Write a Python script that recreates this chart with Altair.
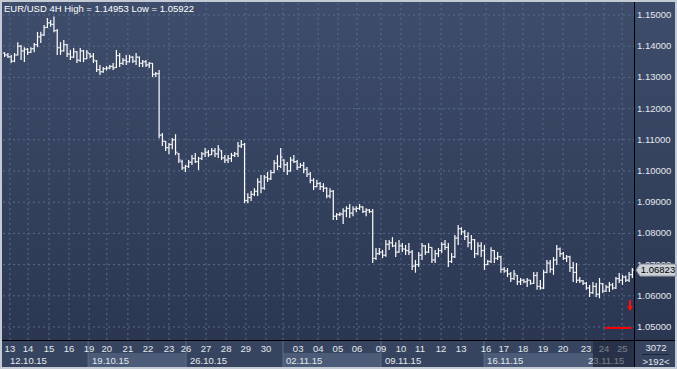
import altair as alt
import pandas as pd

# ---------------- data ----------------
opens = [1.1378,1.1372,1.1366,1.1352,1.1372,1.1400,1.1385,1.1390,1.1380,1.1392,
         1.1405,1.1430,1.1436,1.1460,1.1475,1.1470,1.1450,1.1395,1.1385,1.1405,
         1.1375,1.1365,1.1382,1.1355,1.1385,1.1360,1.1376,1.1368,1.1352,1.1325,
         1.1318,1.1328,1.1330,1.1335,1.1332,1.1370,1.1345,1.1355,1.1350,1.1365,
         1.1352,1.1365,1.1345,1.1350,1.1340,1.1345,1.1310,1.1312,1.1115,1.1095,
         1.1075,1.1085,1.1100,1.1055,1.1030,1.1010,1.1015,1.1028,1.1040,1.1030,
         1.1040,1.1055,1.1060,1.1052,1.1065,1.1055,1.1065,1.1042,1.1035,1.1040,
         1.1050,1.1055,1.1080,1.1085,1.0905,1.0915,1.0925,1.0935,1.0965,1.0945,
         1.0980,1.0975,1.0995,1.1025,1.1015,1.1035,1.1020,1.1000,1.1035,1.1030,
         1.1012,1.1018,1.1005,1.0990,1.0970,1.0950,1.0960,1.0950,1.0945,1.0920,
         1.0935,1.0855,1.0860,1.0862,1.0872,1.0880,1.0865,1.0878,1.0880,1.0885,
         1.0870,1.0875,1.0870,1.0720,1.0735,1.0740,1.0730,1.0765,1.0770,1.0760,
         1.0740,1.0760,1.0750,1.0745,1.0740,1.0695,1.0700,1.0730,1.0760,1.0740,
         1.0755,1.0715,1.0735,1.0745,1.0765,1.0755,1.0710,1.0725,1.0785,1.0815,
         1.0805,1.0790,1.0770,1.0780,1.0735,1.0760,1.0745,1.0700,1.0710,1.0745,
         1.0720,1.0725,1.0685,1.0680,1.0670,1.0655,1.0665,1.0645,1.0650,1.0645,
         1.0650,1.0640,1.0665,1.0630,1.0625,1.0675,1.0705,1.0685,1.0715,1.0750,
         1.0735,1.0720,1.0725,1.0690,1.0675,1.0650,1.0648,1.0640,1.0625,1.0610,
         1.0630,1.0605,1.0638,1.0615,1.0628,1.0635,1.0625,1.0655,1.0650,1.0660,
         1.0650,1.0668]
highs = [1.1381,1.1378,1.1372,1.1378,1.1413,1.1404,1.1397,1.1394,1.1397,1.1410,
         1.1446,1.1446,1.1468,1.1490,1.1484,1.14953,1.1455,1.1413,1.1420,1.1407,
         1.1388,1.1394,1.1384,1.1394,1.1388,1.1388,1.1378,1.1378,1.1356,1.1340,
         1.1333,1.1336,1.1340,1.1346,1.1388,1.1378,1.1362,1.1372,1.1372,1.1368,
         1.1378,1.1367,1.1356,1.1356,1.1349,1.1346,1.1317,1.1324,1.1122,1.1096,
         1.1090,1.1106,1.1118,1.1058,1.1036,1.1019,1.1035,1.1051,1.1058,1.1045,
         1.1061,1.1074,1.1067,1.1074,1.1074,1.1083,1.1067,1.1051,1.1051,1.1058,
         1.1061,1.1093,1.1099,1.1090,1.0929,1.0936,1.0945,1.0977,1.0987,1.0987,
         1.0997,1.1003,1.1035,1.1051,1.1074,1.1038,1.1029,1.1045,1.1051,1.1035,
         1.1026,1.1029,1.1013,1.0997,1.0977,1.0971,1.0965,1.0961,1.0948,1.0945,
         1.0939,1.0865,1.0868,1.0881,1.0887,1.0894,1.0887,1.0887,1.0894,1.0887,
         1.0881,1.0878,1.0878,1.0753,1.0753,1.0747,1.0779,1.0779,1.0788,1.0772,
         1.0779,1.0769,1.0763,1.0769,1.0747,1.0715,1.0740,1.0769,1.0763,1.0769,
         1.0756,1.0747,1.0753,1.0772,1.0779,1.0769,1.0737,1.0795,1.0827,1.0820,
         1.0811,1.0804,1.0795,1.0782,1.0772,1.0772,1.0763,1.0715,1.0756,1.0747,
         1.0740,1.0728,1.0692,1.0689,1.0676,1.0683,1.0667,1.0657,1.0654,1.0657,
         1.0651,1.0676,1.0676,1.0651,1.0683,1.0715,1.0715,1.0724,1.0763,1.0755,
         1.0740,1.0731,1.0728,1.0708,1.0705,1.0660,1.0651,1.0644,1.0635,1.0644,
         1.0641,1.0657,1.0641,1.0635,1.0644,1.0641,1.0660,1.0673,1.0667,1.0665,
         1.0676,1.0689]
lows = [1.1365,1.1362,1.1346,1.1349,1.1370,1.1356,1.1349,1.1372,1.1378,1.1381,
        1.1397,1.1410,1.1433,1.1458,1.1462,1.1445,1.1372,1.1372,1.1383,1.1365,
        1.1356,1.1362,1.1346,1.1349,1.1349,1.1358,1.1362,1.1346,1.1317,1.1308,
        1.1315,1.1322,1.1326,1.1324,1.1330,1.1333,1.1340,1.1340,1.1348,1.1346,
        1.1340,1.1333,1.1333,1.1333,1.1330,1.1301,1.1301,1.1105,1.1080,1.1064,
        1.1054,1.1070,1.1051,1.1026,1.1003,1.0997,1.1010,1.1019,1.1026,1.1003,
        1.1035,1.1045,1.1045,1.1051,1.1045,1.1042,1.1035,1.1026,1.1026,1.1029,
        1.1045,1.1045,1.1074,1.0897,1.0897,1.0904,1.0920,1.0920,1.0929,1.0940,
        1.0965,1.0971,1.0993,1.1003,1.1010,1.0997,1.0987,1.0998,1.1026,1.1003,
        1.1010,1.0993,1.0981,1.0961,1.0939,1.0948,1.0939,1.0933,1.0913,1.0913,
        1.0843,1.0843,1.0855,1.0830,1.0852,1.0849,1.0855,1.0868,1.0875,1.0865,
        1.0855,1.0865,1.0705,1.0715,1.0731,1.0721,1.0725,1.0747,1.0756,1.0724,
        1.0738,1.0740,1.0731,1.0731,1.0683,1.0674,1.0692,1.0715,1.0731,1.0737,
        1.0705,1.0705,1.0724,1.0737,1.0747,1.0692,1.0705,1.0721,1.0763,1.0795,
        1.0779,1.0756,1.0747,1.0721,1.0730,1.0724,1.0683,1.0699,1.0705,1.0705,
        1.0715,1.0674,1.0674,1.0660,1.0644,1.0651,1.0635,1.0635,1.0641,1.0628,
        1.0635,1.0638,1.0619,1.0619,1.0622,1.0672,1.0674,1.0667,1.0699,1.0724,
        1.0715,1.0708,1.0676,1.0644,1.0641,1.0641,1.0635,1.0619,1.0596,1.0606,
        1.0596,1.05922,1.0609,1.0612,1.0612,1.0619,1.0622,1.0641,1.0635,1.0644,
        1.0644,1.0657]
closes = [1.1372,1.1366,1.1352,1.1372,1.1400,1.1385,1.1390,1.1380,1.1392,1.1405,
          1.1430,1.1436,1.1460,1.1475,1.1470,1.1450,1.1395,1.1385,1.1405,1.1375,
          1.1365,1.1382,1.1355,1.1385,1.1360,1.1380,1.1368,1.1355,1.1325,1.1318,
          1.1328,1.1330,1.1335,1.1330,1.1370,1.1345,1.1355,1.1350,1.1365,1.1352,
          1.1365,1.1345,1.1350,1.1340,1.1345,1.1310,1.1312,1.1115,1.1095,1.1075,
          1.1085,1.1100,1.1060,1.1035,1.1010,1.1015,1.1028,1.1040,1.1030,1.1040,
          1.1055,1.1060,1.1052,1.1065,1.1055,1.1070,1.1042,1.1035,1.1040,1.1050,
          1.1055,1.1080,1.1085,1.0905,1.0915,1.0925,1.0935,1.0965,1.0945,1.0980,
          1.0975,1.0995,1.1025,1.1015,1.1045,1.1020,1.1000,1.1035,1.1030,1.1012,
          1.1018,1.1005,1.0990,1.0970,1.0950,1.0960,1.0950,1.0945,1.0920,1.0935,
          1.0855,1.0860,1.0862,1.0872,1.0880,1.0865,1.0878,1.0880,1.0885,1.0870,
          1.0875,1.0870,1.0720,1.0735,1.0740,1.0730,1.0765,1.0770,1.0760,1.0740,
          1.0760,1.0750,1.0745,1.0740,1.0695,1.0700,1.0730,1.0760,1.0740,1.0755,
          1.0715,1.0735,1.0745,1.0765,1.0755,1.0710,1.0725,1.0785,1.0815,1.0805,
          1.0790,1.0770,1.0780,1.0735,1.0760,1.0745,1.0700,1.0710,1.0745,1.0720,
          1.0725,1.0685,1.0680,1.0670,1.0655,1.0670,1.0645,1.0650,1.0645,1.0650,
          1.0640,1.0665,1.0630,1.0625,1.0675,1.0705,1.0685,1.0715,1.0750,1.0735,
          1.0720,1.0725,1.0690,1.0675,1.0650,1.0648,1.0640,1.0625,1.0610,1.0630,
          1.0605,1.0640,1.0615,1.0628,1.0635,1.0625,1.0655,1.0650,1.0660,1.0650,
          1.0668,1.06823]

price_ticks = [1.05, 1.06, 1.07, 1.08, 1.09, 1.10, 1.11, 1.12, 1.13, 1.14, 1.15]

day_labels = ["13","14","15","16","19","20","21","22","23","26","27","28","29","30","",
              "03","04","05","06","09","10","11","12","13","16","17","18","19","20","23","24","25"]
day_pos = [2.1, 7.6, 14.0, 20.1, 26.2, 31.6, 38.0, 44.1, 50.5, 55.7, 61.8, 67.9, 73.9, 80.0, 85.2,
           89.8, 95.9, 101.9, 107.7, 115.0, 121.1, 126.9, 133.3, 139.4, 147.0, 152.4, 158.2, 164.3,
           170.4, 177.4, 182.9, 188.4]

week_labels = ["12.10.15", "19.10.15", "26.10.15", "02.11.15", "09.11.15", "16.11.15", "23.11.15"]
week_start = [0.0, 25.9, 55.7, 85.2, 115.0, 146.4, 179.5]
week_end = [25.9, 55.7, 85.2, 115.0, 146.4, 179.5, 192.0]
week_label_pos = [2.1, 27.1, 56.9, 86.1, 116.2, 147.3, 178.0]
week_shade = [0, 1, 0, 1, 0, 1, 0]

title_text = "EUR/USD 4H High = 1.14953 Low = 1.05922"
bar_count_text = "3072"
visible_text = ">192<"
red_level = [1.0497]
red_from = [183.2]
red_to = [191.3]
arrow_pos = [190.8]
arrow_price = [1.0569]

# ---------------- frames ----------------
bars = pd.DataFrame({"x": [i + 0.5 for i in range(len(closes))],
                     "o": opens, "h": highs, "l": lows, "c": closes})
ticks_df = pd.DataFrame({"t": price_ticks})
days_df = pd.DataFrame({"d": day_labels, "pos": day_pos})
weeks_df = pd.DataFrame({"w": week_labels, "s": week_start, "e": week_end,
                         "lp": week_label_pos, "shade": week_shade})
last_df = pd.DataFrame({"p": [closes[-1]]})
red_df = pd.DataFrame({"lvl": red_level, "a": red_from, "b": red_to})
arrow_df = pd.DataFrame({"x": arrow_pos, "p": arrow_price})
one = pd.DataFrame({"k": [0]})

W, H = 631, 337
FONT = "Liberation Sans"
xs = alt.Scale(domain=[0, 192], nice=False, zero=False)
ys = alt.Scale(domain=[1.045833, 1.153846], nice=False, zero=False)
X = lambda f: alt.X(f, type="quantitative", scale=xs, axis=None)
Y = lambda f: alt.Y(f, type="quantitative", scale=ys, axis=None)

grad = alt.LinearGradient(gradient="linear", x1=0, x2=0, y1=0, y2=1,
                          stops=[alt.GradientStop(color="#3e4d6b", offset=0),
                                 alt.GradientStop(color="#2b3752", offset=1)])

panel = alt.Chart(one).mark_rect(color=grad).encode(
    x=alt.value(-1), x2=alt.value(672), y=alt.value(-1), y2=alt.value(H))
strip = alt.Chart(one).mark_rect(color="#36445f").encode(
    x=alt.value(-1), x2=alt.value(672), y=alt.value(H), y2=alt.value(364))
week_boxes = alt.Chart(weeks_df).transform_filter("datum.shade == 1").mark_rect(
    color="#4b5b78").encode(x=X("s"), x2="e", y=alt.value(350), y2=alt.value(364))
week_lines = alt.Chart(weeks_df).transform_filter("datum.s > 0 && datum.s < 179").mark_rule(
    color="#5e6e8d").encode(x=X("s"), y=alt.value(H), y2=alt.value(364))

hgrid = alt.Chart(ticks_df).mark_rule(color="#5a6b8d", strokeDash=[2, 3]).encode(
    y=Y("t"), x=alt.value(0), x2=alt.value(W))
vgrid = alt.Chart(days_df).mark_rule(color="#5a6b8d", strokeDash=[2, 3]).encode(
    x=X("pos"), y=alt.value(0), y2=alt.value(H))

hl = alt.Chart(bars).mark_rule(color="#ffffff", strokeWidth=1.2).encode(
    x=X("x"), y=Y("l"), y2="h")
op = alt.Chart(bars).mark_tick(color="#ffffff", orient="horizontal", size=2,
                               thickness=1.2, xOffset=-1).encode(x=X("x"), y=Y("o"))
cl = alt.Chart(bars).mark_tick(color="#ffffff", orient="horizontal", size=2,
                               thickness=1.2, xOffset=1).encode(x=X("x"), y=Y("c"))

vline = alt.Chart(one).mark_rule(color="#000000").encode(
    x=alt.value(631.5), y=alt.value(-1), y2=alt.value(364))
hline = alt.Chart(one).mark_rule(color="#000000").encode(
    y=alt.value(337.5), x=alt.value(-1), x2=alt.value(672))

ylabels = alt.Chart(ticks_df).mark_text(align="left", baseline="middle", font=FONT,
                                        fontSize=9.5, color="#e4e8ee").encode(
    y=Y("t"), x=alt.value(634), text=alt.Text("t:Q", format=".5f"))
title = alt.Chart(one).mark_text(align="left", baseline="middle", font=FONT, fontSize=9.5,
                                 color="#ffffff", text=title_text).encode(
    x=alt.value(1), y=alt.value(5.5))
day_text = alt.Chart(days_df).mark_text(align="center", baseline="middle", font=FONT,
                                        fontSize=9.5, color="#e4e8ee").encode(
    x=X("pos"), y=alt.value(345.5), text="d:N")
week_text = alt.Chart(weeks_df).mark_text(align="left", baseline="middle", font=FONT,
                                          fontSize=9.5, color="#e4e8ee").encode(
    x=X("lp"), y=alt.value(357.5), text="w:N")
dim = alt.Chart(one).mark_rect(color="#1c2436", opacity=0.55).encode(
    x=alt.value(590), x2=alt.value(631), y=alt.value(338), y2=alt.value(364))

count_text = alt.Chart(one).mark_text(align="center", baseline="middle", font=FONT,
                                      fontSize=9.5, color="#e4e8ee", text=bar_count_text).encode(
    x=alt.value(653), y=alt.value(344.5))
count_line = alt.Chart(one).mark_rule(color="#1e2638", strokeWidth=1).encode(
    x=alt.value(639), x2=alt.value(666), y=alt.value(351.5))
vis_text = alt.Chart(one).mark_text(align="center", baseline="middle", font=FONT,
                                    fontSize=9.5, color="#e4e8ee", text=visible_text).encode(
    x=alt.value(653), y=alt.value(358.5))

marker = alt.Chart(last_df).mark_point(
    shape="M-1,0L-0.8,-0.3L1,-0.3L1,0.3L-0.8,0.3Z", size=1600, filled=True,
    fill="#cbd0d7", stroke="#8a929e", strokeWidth=1, opacity=1).encode(
    x=alt.value(653), y=Y("p"))
marker_text = alt.Chart(last_df).mark_text(align="center", baseline="middle", font=FONT,
                                           fontSize=9.5, color="#000000").encode(
    x=alt.value(655), y=Y("p"), text=alt.Text("p:Q", format=".5f"))

red_line = alt.Chart(red_df).mark_rule(color="#ff0000", strokeWidth=2).encode(
    x=X("a"), x2="b", y=Y("lvl"))
arrow = alt.Chart(arrow_df).mark_point(
    shape="M-0.18,-1L0.18,-1L0.18,0.15L0.55,0.15L0,1L-0.55,0.15L-0.18,0.15Z",
    size=121, filled=True, color="#ff1010", opacity=1).encode(x=X("x"), y=Y("p"))

chart = alt.layer(
    panel, strip, week_boxes, week_lines, hgrid, vgrid, hl, op, cl,
    red_line, arrow, vline, hline, ylabels, title, day_text, week_text, dim,
    count_text, count_line, vis_text, marker, marker_text
).properties(
    width=W, height=H,
    padding={"left": 3, "top": 3, "right": 43, "bottom": 29},
    autosize=alt.AutoSizeParams(type="none"),
    background="#c4cbd5",
).configure_view(strokeWidth=0)

chart.save("out.html", embed_options={"renderer": "svg", "actions": False})
